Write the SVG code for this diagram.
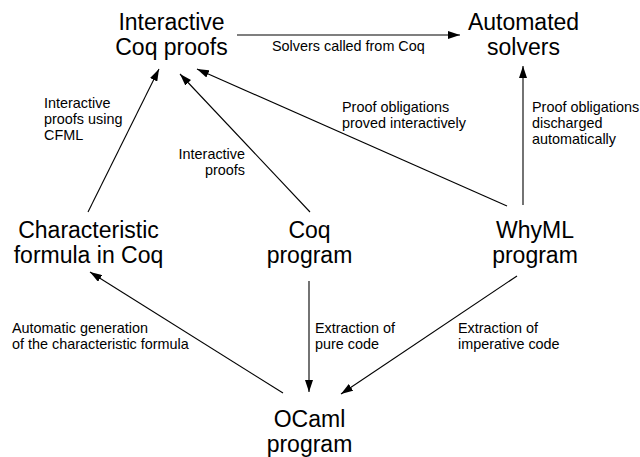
<svg xmlns="http://www.w3.org/2000/svg" width="640" height="457" viewBox="0 0 640 457">
<style>
.node{font-family:"Liberation Sans",Arial,sans-serif;font-size:23px;fill:#000;text-anchor:middle}
.lbl{font-family:"Liberation Sans",Arial,sans-serif;font-size:14.4px;fill:#000}
.edge{stroke:#000;stroke-width:1.1;fill:none;marker-end:url(#arr)}
</style>
<defs>
<marker id="arr" viewBox="0 0 12 8" refX="12" refY="4" markerWidth="12" markerHeight="8" markerUnits="userSpaceOnUse" orient="auto">
<path d="M0,0 L12,4 L0,8 z" fill="#000"/>
</marker>
</defs>
<rect width="640" height="457" fill="#fff"/>
<g id="connectors">
<line class="edge" x1="237" y1="35" x2="460" y2="35"/>
<line class="edge" x1="88" y1="212" x2="159" y2="69"/>
<line class="edge" x1="310" y1="212" x2="180" y2="74"/>
<line class="edge" x1="507" y1="206" x2="197" y2="69"/>
<line class="edge" x1="523" y1="205" x2="523" y2="66"/>
<line class="edge" x1="283" y1="393" x2="90" y2="272"/>
<line class="edge" x1="309" y1="281" x2="309" y2="392"/>
<line class="edge" x1="517" y1="276" x2="341" y2="394"/>
</g>
<g id="edge-labels">
<text class="lbl" x="272" y="51">Solvers called from Coq</text>
<text class="lbl" x="44" y="108">Interactive</text>
<text class="lbl" x="44" y="124">proofs using</text>
<text class="lbl" x="44" y="140">CFML</text>
<text class="lbl" x="245" y="159" text-anchor="end">Interactive</text>
<text class="lbl" x="245" y="175" text-anchor="end">proofs</text>
<text class="lbl" x="342" y="112">Proof obligations</text>
<text class="lbl" x="342" y="128">proved interactively</text>
<text class="lbl" x="532" y="112">Proof obligations</text>
<text class="lbl" x="532" y="128">discharged</text>
<text class="lbl" x="532" y="144">automatically</text>
<text class="lbl" x="12" y="333">Automatic generation</text>
<text class="lbl" x="12" y="349">of the characteristic formula</text>
<text class="lbl" x="315" y="333">Extraction of</text>
<text class="lbl" x="315" y="349">pure code</text>
<text class="lbl" x="458" y="333">Extraction of</text>
<text class="lbl" x="458" y="349">imperative code</text>
</g>
<g id="node-coqproofs">
<text class="node" x="171.5" y="30">Interactive</text>
<text class="node" x="171.5" y="55">Coq proofs</text>
</g>
<g id="node-solvers">
<text class="node" x="523.5" y="30">Automated</text>
<text class="node" x="523.5" y="55">solvers</text>
</g>
<g id="node-charform">
<text class="node" x="88.5" y="238">Characteristic</text>
<text class="node" x="88.5" y="263">formula in Coq</text>
</g>
<g id="node-coqprogram">
<text class="node" x="309.5" y="238">Coq</text>
<text class="node" x="309.5" y="263">program</text>
</g>
<g id="node-whyml">
<text class="node" x="535" y="238">WhyML</text>
<text class="node" x="535" y="263">program</text>
</g>
<g id="node-ocaml">
<text class="node" x="309.5" y="427">OCaml</text>
<text class="node" x="309.5" y="452">program</text>
</g>
</svg>
